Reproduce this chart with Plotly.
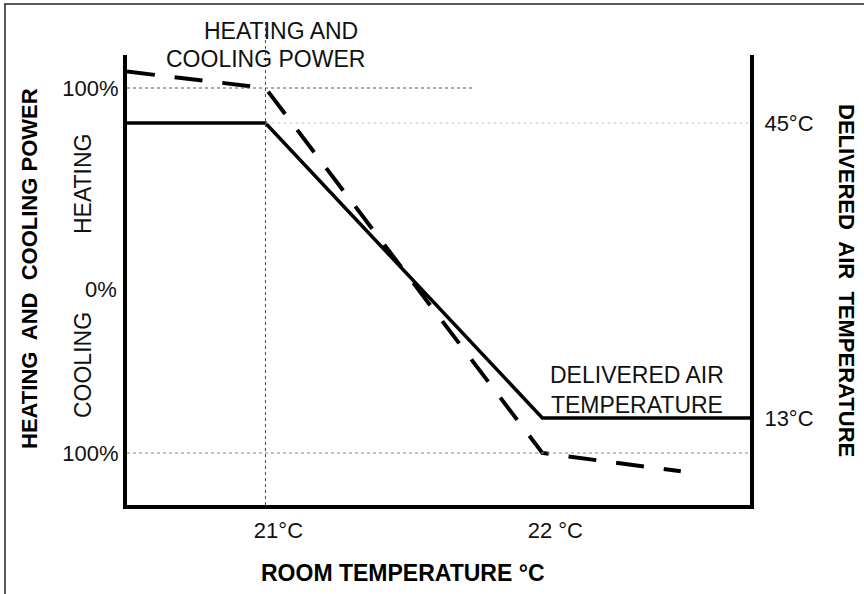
import plotly.graph_objects as go

# Room temperature (°C) on the x axis
room_temp_air = [20.5, 21, 22, 22.75]
delivered_air_temp = [45, 45, 13, 13]          # °C, right axis

room_temp_power = [20.5, 21, 22, 22.5]
heating_cooling_power = [109, 100, -100, -110]  # %, +heating / -cooling, left axis

x_tick_vals = [21, 22]
x_tick_text = ["21°C", "22 °C"]
power_tick_vals = [100, -100]
power_tick_text = ["100%", "100%"]
air_tick_vals = [45, 13]
air_tick_text = ["45°C", "13°C"]

FONT = "Liberation Sans, Arial, sans-serif"
TXT = 23

fig = go.Figure()
fig.add_trace(go.Scatter(
    x=room_temp_power, y=heating_cooling_power, mode="lines",
    line=dict(color="black", width=4, dash="28px,20px"),
    yaxis="y", showlegend=False, hoverinfo="skip"))
fig.add_trace(go.Scatter(
    x=room_temp_air, y=delivered_air_temp, mode="lines",
    line=dict(color="black", width=3.5),
    yaxis="y2", showlegend=False, hoverinfo="skip"))

fig.update_layout(
    width=864, height=594,
    margin=dict(l=127, r=114, t=55, b=89),
    paper_bgcolor="white", plot_bgcolor="white",
    font=dict(family=FONT, size=TXT, color="#111"),
    xaxis=dict(
        range=[20.5, 22.75], showgrid=False, zeroline=False,
        showline=True, linecolor="black", linewidth=4,
        tickvals=x_tick_vals, ticktext=x_tick_text, ticks="",
        ticklabelshift=13, ticklabelstandoff=3,
        tickfont=dict(size=TXT - 1, family=FONT, color="#111")),
    yaxis=dict(
        range=[-128.49, 118.08], showgrid=False, zeroline=False,
        showline=True, linecolor="black", linewidth=4,
        tickvals=power_tick_vals, ticktext=power_tick_text, ticks="",
        ticklabelstandoff=0,
        tickfont=dict(size=TXT - 1, family=FONT, color="#111")),
    yaxis2=dict(
        range=[3.563, 52.376], overlaying="y", side="right",
        showgrid=False, zeroline=False,
        showline=True, linecolor="black", linewidth=4,
        tickvals=air_tick_vals, ticktext=air_tick_text, ticks="",
        ticklabelstandoff=6,
        tickfont=dict(size=TXT - 1, family=FONT, color="#111")),
)

# Reference guide lines
shapes = [
    dict(type="line", xref="x", yref="y", x0=20.5, x1=21.75, y0=100, y1=100,
         line=dict(color="#555", width=1, dash="dot")),
    dict(type="line", xref="x", yref="y", x0=20.5, x1=22.75, y0=-100, y1=-100,
         line=dict(color="#888", width=1, dash="dot")),
    dict(type="line", xref="x", yref="y2", x0=21, x1=22.75, y0=45, y1=45,
         line=dict(color="#c4c4c4", width=1, dash="dot")),
    dict(type="line", xref="x", yref="paper", x0=21, x1=21, y0=0, y1=1.073,
         line=dict(color="#444", width=1, dash="dot")),
    # frame edges
    dict(type="line", xref="paper", yref="paper", x0=-0.197, x1=1.2, y0=1.1133, y1=1.1133,
         line=dict(color="#222", width=1.5)),
    dict(type="line", xref="paper", yref="paper", x0=-0.1958, x1=-0.1958, y0=-0.2, y1=1.1133,
         line=dict(color="#222", width=1.5)),
]
fig.update_layout(shapes=shapes)


def label(text, x, y, size=TXT, angle=0, xanchor="center", bold=False):
    return dict(text=f"<b>{text}</b>" if bold else text, x=x, y=y,
                xref="paper", yref="paper", xanchor=xanchor, yanchor="middle",
                textangle=angle, showarrow=False, align="center",
                font=dict(size=size, color="black" if bold else "#111"))


ann = [
    label("HEATING AND", 0.2472, 1.0533),
    label("COOLING POWER", 0.2223, 0.9911),
    label("DELIVERED AIR<br>TEMPERATURE", 0.8186, 0.2556),
    label("HEATING", -0.0706, 0.7133, angle=-90),
    label("COOLING", -0.0706, 0.3111, angle=-90),
    label("0%", -0.0128, 0.478, size=TXT - 1, xanchor="right"),
    label("HEATING  AND  COOLING POWER", -0.1557, 0.5267, size=22, angle=-90, bold=True),
    label("DELIVERED  AIR  TEMPERATURE", 1.1557, 0.5, size=22, angle=90, bold=True),
    label("ROOM TEMPERATURE °C", 0.443, -0.1511, size=23, bold=True),
]
fig.update_layout(annotations=ann)

fig.write_html("out.html")
